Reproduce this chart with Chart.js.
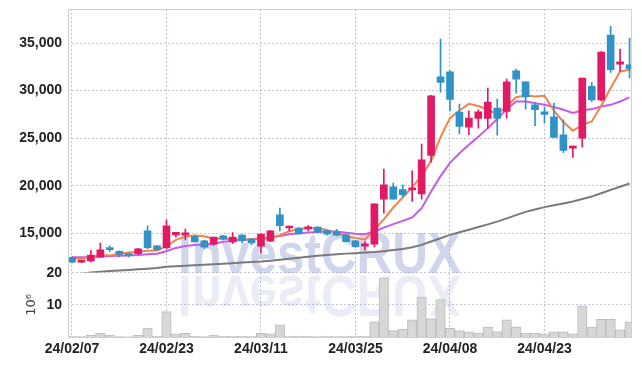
<!DOCTYPE html>
<html><head><meta charset="utf-8">
<script src="https://cdn.jsdelivr.net/npm/chart.js@4"></script>
<style>html,body{margin:0;padding:0;background:#fff;}#wrap{width:642px;height:366px;}</style>
</head><body><div id="wrap"><canvas id="c" width="642" height="366"></canvas></div>
<script>
const dates = ['24/02/07','24/02/08','24/02/13','24/02/14','24/02/15','24/02/16','24/02/19','24/02/20','24/02/21','24/02/22',
'24/02/23','24/02/26','24/02/27','24/02/28','24/02/29','24/03/04','24/03/05','24/03/06','24/03/07','24/03/08',
'24/03/11','24/03/12','24/03/13','24/03/14','24/03/15','24/03/18','24/03/19','24/03/20','24/03/21','24/03/22',
'24/03/25','24/03/26','24/03/27','24/03/28','24/03/29','24/04/01','24/04/02','24/04/03','24/04/04','24/04/05',
'24/04/08','24/04/09','24/04/11','24/04/12','24/04/15','24/04/16','24/04/17','24/04/18','24/04/19','24/04/22',
'24/04/23','24/04/24','24/04/25','24/04/26','24/04/29','24/04/30','24/05/02','24/05/03','24/05/07','24/05/08'];

const opens  = [12470,11950,12080,12480,13480,13100,12800,12850,15240,13660,
                13480,14820,14820,14640,14190,13840,14720,14080,14790,14370,
                13630,14160,16930,15550,15530,15450,15630,15270,15170,14820,
                14190,13630,13840,18580,19870,19590,19560,19140,23170,31450,
                31980,27740,26160,27060,27060,28160,27800,32080,30930,28500,
                27770,27240,25350,23950,25000,30440,29030,35840,32790,32720];
const highs  = [12520,12050,13170,13950,13660,13150,12900,13400,15770,13700,
                16400,15100,15420,14800,14250,14600,14800,15060,14850,14450,
                14950,15300,17630,15740,15600,15800,15700,15300,15400,14900,
                14250,14100,18100,21740,20260,20080,21560,24370,29500,35420,
                32100,28580,27870,27980,30260,29100,31210,32260,30930,28750,
                28260,28680,26930,24200,31320,30850,34100,36750,34370,35530];
const lows   = [11880,11900,11950,12480,13060,12500,12500,12800,13380,13200,
                13320,14580,14300,14050,13400,13700,14300,13900,14000,13800,
                12900,14100,15240,15250,14900,15250,15050,14800,14700,14050,
                13500,13250,13560,17100,18580,18850,18330,18580,22470,29840,
                27870,25450,25350,26050,26050,25320,27100,29740,28050,26300,
                26580,25060,23480,22960,24050,28850,28900,31900,32010,31320];
const closes = [11950,12000,12710,13240,13270,12790,12650,13350,13480,13270,
                15770,15100,15000,14080,13530,14580,14400,14580,14220,13980,
                14900,15240,15800,15600,14930,15500,15100,14900,14790,14120,
                13590,13870,18080,20080,18580,19060,19740,22720,29450,30850,
                29060,26220,27100,27770,28790,27060,30930,31210,29320,27980,
                27480,25060,23700,24120,31320,29030,34050,32190,33030,32300];
const volumes = [0.1,0.1,0.5,1.2,0.5,0.15,0.05,0.5,2.8,0.2,
                 7.9,0.95,1.15,0.2,0.1,0.5,0.2,0.2,0.2,0.1,
                 1.15,0.95,3.8,0.3,0.3,0.2,0.1,0.3,0.1,0.3,
                 0.2,0.2,4.7,18.4,2.0,2.5,5.3,12.4,5.7,11.6,
                 2.8,2.0,1.6,1.25,3.1,1.7,5.3,3.1,1.25,1.25,
                 0.95,1.6,1.6,0.95,9.7,3.1,5.5,5.5,2.2,4.7];
const maShort = [12330,12340,12430,12700,12650,12820,12960,13060,13140,13170,
                 13600,14300,14640,14760,14680,14420,14420,14400,14360,14330,
                 14380,14470,14800,15200,15440,15520,15520,15350,15000,14700,
                 14500,14350,15350,16450,17700,18750,19850,21000,22600,25100,
                 27100,27900,28600,28380,27980,27540,28330,29300,29470,29380,
                 29450,27900,26700,25770,26400,26750,28400,30260,32010,32190];
const maMid   = [12470,12470,12500,12560,12600,12620,12650,12700,12780,12830,
                 13100,13450,13650,13750,13820,13900,14100,14190,14290,14370,
                 14470,14550,14700,14890,15000,15060,15120,15170,15170,15050,
                 14950,14900,15170,15590,15950,16300,16650,17630,19380,21000,
                 22400,23400,24300,25150,26050,27000,28050,28850,28850,28680,
                 28500,28270,27980,27640,27900,28050,28330,28500,28850,29280];
const maLong  = [10600,10740,10860,10950,11020,11080,11140,11200,11270,11340,
                 11480,11530,11580,11630,11680,11730,11790,11850,11910,11960,
                 12010,12110,12210,12320,12420,12520,12620,12700,12780,12850,
                 12900,12960,13020,13110,13220,13330,13520,13770,14120,14470,
                 14820,15100,15370,15650,15930,16220,16560,16900,17240,17490,
                 17740,17940,18130,18330,18590,18850,19200,19560,19890,20220];
const priceTicks = [15000,20000,25000,30000,35000];
const volumeTicks = [10,20];
const dateTickIdx = [0,10,20,30,40,50];

const RED = '#e11a66', BLUE = '#3192c8';
const idx = dates.map((d,i)=>i);
const upColor = i => closes[i] >= opens[i] ? RED : BLUE;

const gridColor = 'rgba(190,190,215,0.9)';
const tickFont = {family:'"Liberation Sans Narrow", "Liberation Sans", sans-serif', size:14, weight:'bold'};

const watermark = {
  id:'watermark',
  beforeDatasetsDraw(chart){
    const ctx = chart.ctx;
    const text = 'InvestCRUX';
    const x0 = 178, base = 273, w = 283;
    ctx.save();
    ctx.font = 'bold 57px "Liberation Sans", sans-serif';
    const m = ctx.measureText(text).width;
    const sx = w / m;
    ctx.textBaseline = 'alphabetic';
    ctx.fillStyle = 'rgba(150,165,210,0.45)';
    ctx.save(); ctx.translate(x0, base); ctx.scale(sx, 1); ctx.fillText(text, 0, 0); ctx.restore();
    ctx.fillStyle = 'rgba(150,165,210,0.2)';
    ctx.save(); ctx.translate(x0, base + 3); ctx.scale(sx, -1); ctx.fillText(text, 0, 0); ctx.restore();
    ctx.restore();
  }
};
const panelClip = {
  id:'panelClip',
  beforeDatasetDraw(chart, args){
    const ds = chart.data.datasets[args.index];
    if (ds.yAxisID !== 'y') return;
    const s = chart.scales.y, a = chart.chartArea;
    chart.ctx.save();
    chart.ctx.beginPath();
    chart.ctx.rect(a.left, s.top, a.right - a.left, s.bottom - s.top);
    chart.ctx.clip();
  },
  afterDatasetDraw(chart, args){
    const ds = chart.data.datasets[args.index];
    if (ds.yAxisID !== 'y') return;
    chart.ctx.restore();
  }
};
const frame = {
  id:'frame',
  afterDatasetsDraw(chart){
    const a = chart.chartArea, ctx = chart.ctx;
    ctx.save();
    ctx.strokeStyle = '#cfcfd6';
    ctx.lineWidth = 1;
    ctx.strokeRect(Math.round(a.left)+0.5, Math.round(a.top)+0.5, Math.round(a.right-a.left)-1, Math.round(a.bottom-a.top));
    ctx.restore();
  }
};

const lineDs = (label, arr, color, order) => ({
  type:'line', label, yAxisID:'y', order,
  data: idx.map(i => ({x:i, y:arr[i]})),
  borderColor: color, borderWidth: 2, pointRadius: 0, tension: 0, fill:false
});

const fitY = s => { s.width = 68; s.paddingTop = 0; s.paddingBottom = 0; };

new Chart(document.getElementById('c'), {
  data: {
    datasets: [
      { type:'bar', label:'vol', yAxisID:'yv', order:6, grouped:false,
        data: idx.map(i => ({x:i, y:volumes[i]})),
        backgroundColor:'#d7d7d7', borderColor:'#bcbcbc', borderWidth:1,
        barPercentage:1, categoryPercentage:1 },
      lineDs('long', maLong, '#7a7a7a', 5),
      lineDs('mid', maMid, '#c95ae6', 4),
      lineDs('short', maShort, '#f0844c', 3),
      { type:'bar', label:'wick', yAxisID:'y', order:2, grouped:false,
        data: idx.map(i => ({x:i, y:[lows[i], highs[i]]})),
        backgroundColor: idx.map(upColor), barThickness:1 },
      { type:'bar', label:'body', yAxisID:'y', order:1, grouped:false,
        data: idx.map(i => ({x:i, y:[opens[i], closes[i]]})),
        backgroundColor: idx.map(upColor), barThickness:7, minBarLength:2 }
    ]
  },
  options: {
    responsive:false, animation:false, devicePixelRatio:1,
    layout:{padding:{top:9,right:10,bottom:0,left:0}, autoPadding:false},
    plugins:{legend:{display:false}, tooltip:{enabled:false}},
    scales:{
      x:{ type:'linear', min:-0.42, max:59.26, offset:false,
        afterBuildTicks: s => { s.ticks = dateTickIdx.map(v => ({value:v})); },
        afterFit: s => { s.height = 29; s.paddingLeft = 0; s.paddingRight = 0; },
        ticks:{ callback: v => dates[v], font: tickFont, color:'#222', padding:4, maxRotation:0, autoSkip:false },
        grid:{ color:gridColor, drawTicks:false, lineWidth:1, offset:false },
        border:{ display:false, dash:[2,2] } },
      y:{ type:'linear', position:'left', stack:'main', stackWeight:263.4, weight:1,
        min:10850, max:38580,
        afterBuildTicks: s => { s.ticks = priceTicks.map(v => ({value:v})); },
        afterFit: fitY,
        ticks:{ callback: v => v.toLocaleString('en-US'), font: tickFont, color:'#222', padding:6 },
        grid:{ color:gridColor, drawTicks:false },
        border:{ display:false, dash:[2,2] } },
      yv:{ type:'linear', position:'left', stack:'main', stackWeight:64.3, weight:0,
        min:0, max:20,
        afterBuildTicks: s => { s.ticks = volumeTicks.map(v => ({value:v})); },
        afterFit: fitY,
        ticks:{ font: tickFont, color:'#222', padding:6 },
        title:{ display:true, text:'10⁶', color:'#444', font:{family:'"DejaVu Sans", sans-serif', size:13}, padding:{top:24,bottom:0} },
        grid:{ color:gridColor, drawTicks:false },
        border:{ display:false, dash:[2,2] } }
    }
  },
  plugins:[watermark, panelClip, frame]
});
</script></body></html>
